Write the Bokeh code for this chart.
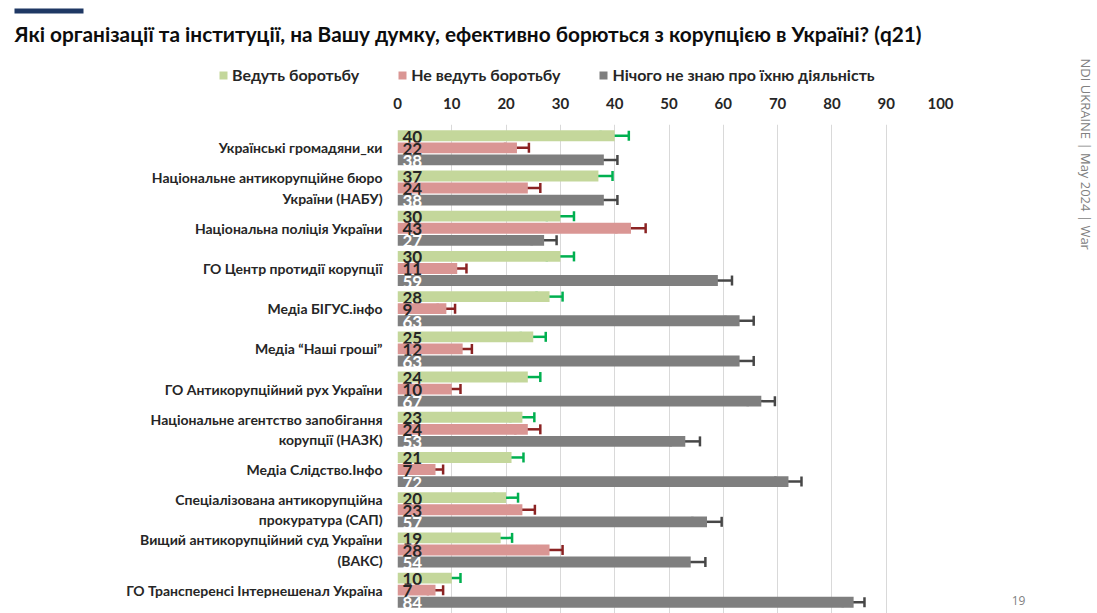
from bokeh.plotting import figure
from bokeh.models import (ColumnDataSource, FactorRange, Range1d, Whisker, TeeHead,
                          SingleIntervalTicker)
from bokeh.layouts import column, row
from bokeh.core.properties import value
from bokeh.transform import dodge
from bokeh.embed import file_html
from bokeh.resources import INLINE
import math

FONT = "Lato"
DARK = "#262626"

categories = [
    "Українські громадяни_ки",
    "Національне антикорупційне бюро\nУкраїни (НАБУ)",
    "Національна поліція України",
    "ГО Центр протидії корупції",
    "Медіа БІГУС.інфо",
    "Медіа “Наші гроші”",
    "ГО Антикорупційний рух України",
    "Національне агентство запобігання\nкорупції (НАЗК)",
    "Медіа Слідство.Інфо",
    "Спеціалізована антикорупційна\nпрокуратура (САП)",
    "Вищий антикорупційний суд України\n(ВАКС)",
    "ГО Трансперенсі Інтернешенал Україна",
]
fighting = [40, 37, 30, 30, 28, 25, 24, 23, 21, 20, 19, 10]
not_fighting = [22, 24, 43, 11, 9, 12, 10, 24, 7, 23, 28, 7]
know_nothing = [38, 38, 27, 59, 63, 63, 67, 53, 72, 57, 54, 84]
fighting_err = [2.6, 2.6, 2.5, 2.5, 2.4, 2.3, 2.3, 2.2, 2.2, 2.2, 2.1, 1.6]
not_fighting_err = [2.2, 2.3, 2.7, 1.7, 1.6, 1.7, 1.6, 2.3, 1.4, 2.3, 2.4, 1.4]
know_nothing_err = [2.5, 2.5, 2.3, 2.6, 2.6, 2.6, 2.5, 2.7, 2.4, 2.7, 2.7, 2.0]
series_names = ["Ведуть боротьбу", "Не ведуть боротьбу", "Нічого не знаю про їхню діяльність"]
x_ticks_interval = 10

title_text = "Які організації та інституції, на Вашу думку, ефективно борються з корупцією в Україні? (q21)"
side_text = "NDI UKRAINE  |  May 2024  |  War"
page_no = "19"

bar_colors = ["#c4d79b", "#da9694", "#7f7f7f"]
err_colors = ["#00b050", "#8b2323", "#474747"]
lab_colors = [DARK, DARK, "#ffffff"]
offsets = [0.3, 0.0, -0.3]

LEFT_W = 1007
HEAD_H = 88
TOTAL_H = 613
FRAME_TOP = 124

# ---------- header: accent bar, title, legend ----------
head = figure(width=LEFT_W, height=HEAD_H, x_range=Range1d(0, LEFT_W),
              y_range=Range1d(HEAD_H, 0), min_border=0,
              output_backend="svg", toolbar_location=None)
head.axis.visible = False
head.grid.visible = False
head.outline_line_color = None
head.quad(left=[14], right=[83], top=[8], bottom=[13], fill_color="#1f3864", line_color=None)
head.text(x=[14], y=[33], text=[title_text], text_font=value(FONT), text_font_size="20.8px",
          text_font_style="bold", text_color="#0d0d0d", text_baseline="middle")
# zero-size proxies so the legend swatches can be drawn in the header
for name, bc in zip(series_names, bar_colors):
    head.hbar(y=[0], left=[0], right=[0], height=0, fill_color=bc, line_color=None,
              legend_label=name)
hl = head.legend[0]
hl.location = (218, 4)
hl.orientation = "horizontal"
hl.padding = 0
hl.margin = 0
hl.spacing = 38
hl.border_line_color = None
hl.background_fill_alpha = 0
hl.glyph_width = 10
hl.glyph_height = 10
hl.label_standoff = 4
hl.label_text_font = FONT
hl.label_text_font_size = "16px"
hl.label_text_font_style = "bold"
hl.label_text_color = DARK

# ---------- main chart ----------
p = figure(y_range=FactorRange(factors=categories[::-1], range_padding=0.08,
                               range_padding_units="absolute"),
           x_range=Range1d(0, 100), x_axis_location="above",
           frame_width=543, frame_height=TOTAL_H - FRAME_TOP,
           min_border_left=397, min_border_right=LEFT_W - 940,
           min_border_top=FRAME_TOP - HEAD_H, min_border_bottom=0,
           output_backend="svg", toolbar_location=None)
p.outline_line_color = None

for vals, errs, name, bc, ec, lc, off in zip(
        [fighting, not_fighting, know_nothing],
        [fighting_err, not_fighting_err, know_nothing_err],
        series_names, bar_colors, err_colors, lab_colors, offsets):
    src = ColumnDataSource(dict(cat=categories, val=vals,
                                lo=[v - e for v, e in zip(vals, errs)],
                                hi=[v + e for v, e in zip(vals, errs)],
                                lab=[str(v) for v in vals]))
    ydodge = dodge("cat", off, range=p.y_range)
    p.hbar(y=ydodge, left=0, right="val", height=0.27, source=src,
           fill_color=bc, line_color=None)
    p.text(x=0, y=ydodge, text="lab", source=src, x_offset=5, y_offset=1,
           text_baseline="middle", text_align="left", text_font_size="17px",
           text_font_style="bold", text_color=lc, text_font=value(FONT))
    p.add_layout(Whisker(source=src, base=ydodge, lower="lo", upper="hi", dimension="width",
                         line_color=ec, line_width=2.5,
                         upper_head=TeeHead(size=10, line_color=ec, line_width=2.5),
                         lower_head=TeeHead(size=10, line_color=ec, line_width=2.5)))

xa = p.xaxis[0]
xa.ticker = SingleIntervalTicker(interval=x_ticks_interval)
xa.axis_line_color = None
xa.major_tick_line_color = None
xa.minor_tick_line_color = None
xa.major_tick_out = 0
xa.major_tick_in = 0
xa.minor_tick_out = 0
xa.major_label_text_font = FONT
xa.major_label_text_font_size = "15px"
xa.major_label_text_font_style = "bold"
xa.major_label_text_color = DARK
xa.major_label_standoff = 16

ya = p.yaxis[0]
ya.axis_line_color = None
ya.major_tick_line_color = None
ya.minor_tick_line_color = None
ya.major_tick_out = 0
ya.major_tick_in = 0
ya.major_label_text_font = FONT
ya.major_label_text_font_size = "14px"
ya.major_label_text_font_style = "bold"
ya.major_label_text_color = DARK
ya.major_label_standoff = 15

p.xgrid.grid_line_color = "#d9d9d9"
p.ygrid.grid_line_color = None

# ---------- right strip: side note and page number ----------
SIDE_W = 1097 - LEFT_W
side = figure(width=SIDE_W, height=TOTAL_H, x_range=Range1d(0, SIDE_W),
              y_range=Range1d(TOTAL_H, 0), min_border=0,
              output_backend="svg", toolbar_location=None)
side.axis.visible = False
side.grid.visible = False
side.outline_line_color = None
side.text(x=[78], y=[58], text=[side_text], angle=-math.pi / 2,
          text_font=value("Open Sans"), text_font_size="13px", text_color="#808080",
          text_baseline="middle", text_align="left")
side.text(x=[11], y=[600], text=[page_no], text_font=value("Open Sans"),
          text_font_size="12px", text_color="#7f7f7f", text_baseline="middle",
          text_align="center")

layout = row(column(head, row(p)), side)
open("out.html", "w").write(file_html(layout, INLINE))
